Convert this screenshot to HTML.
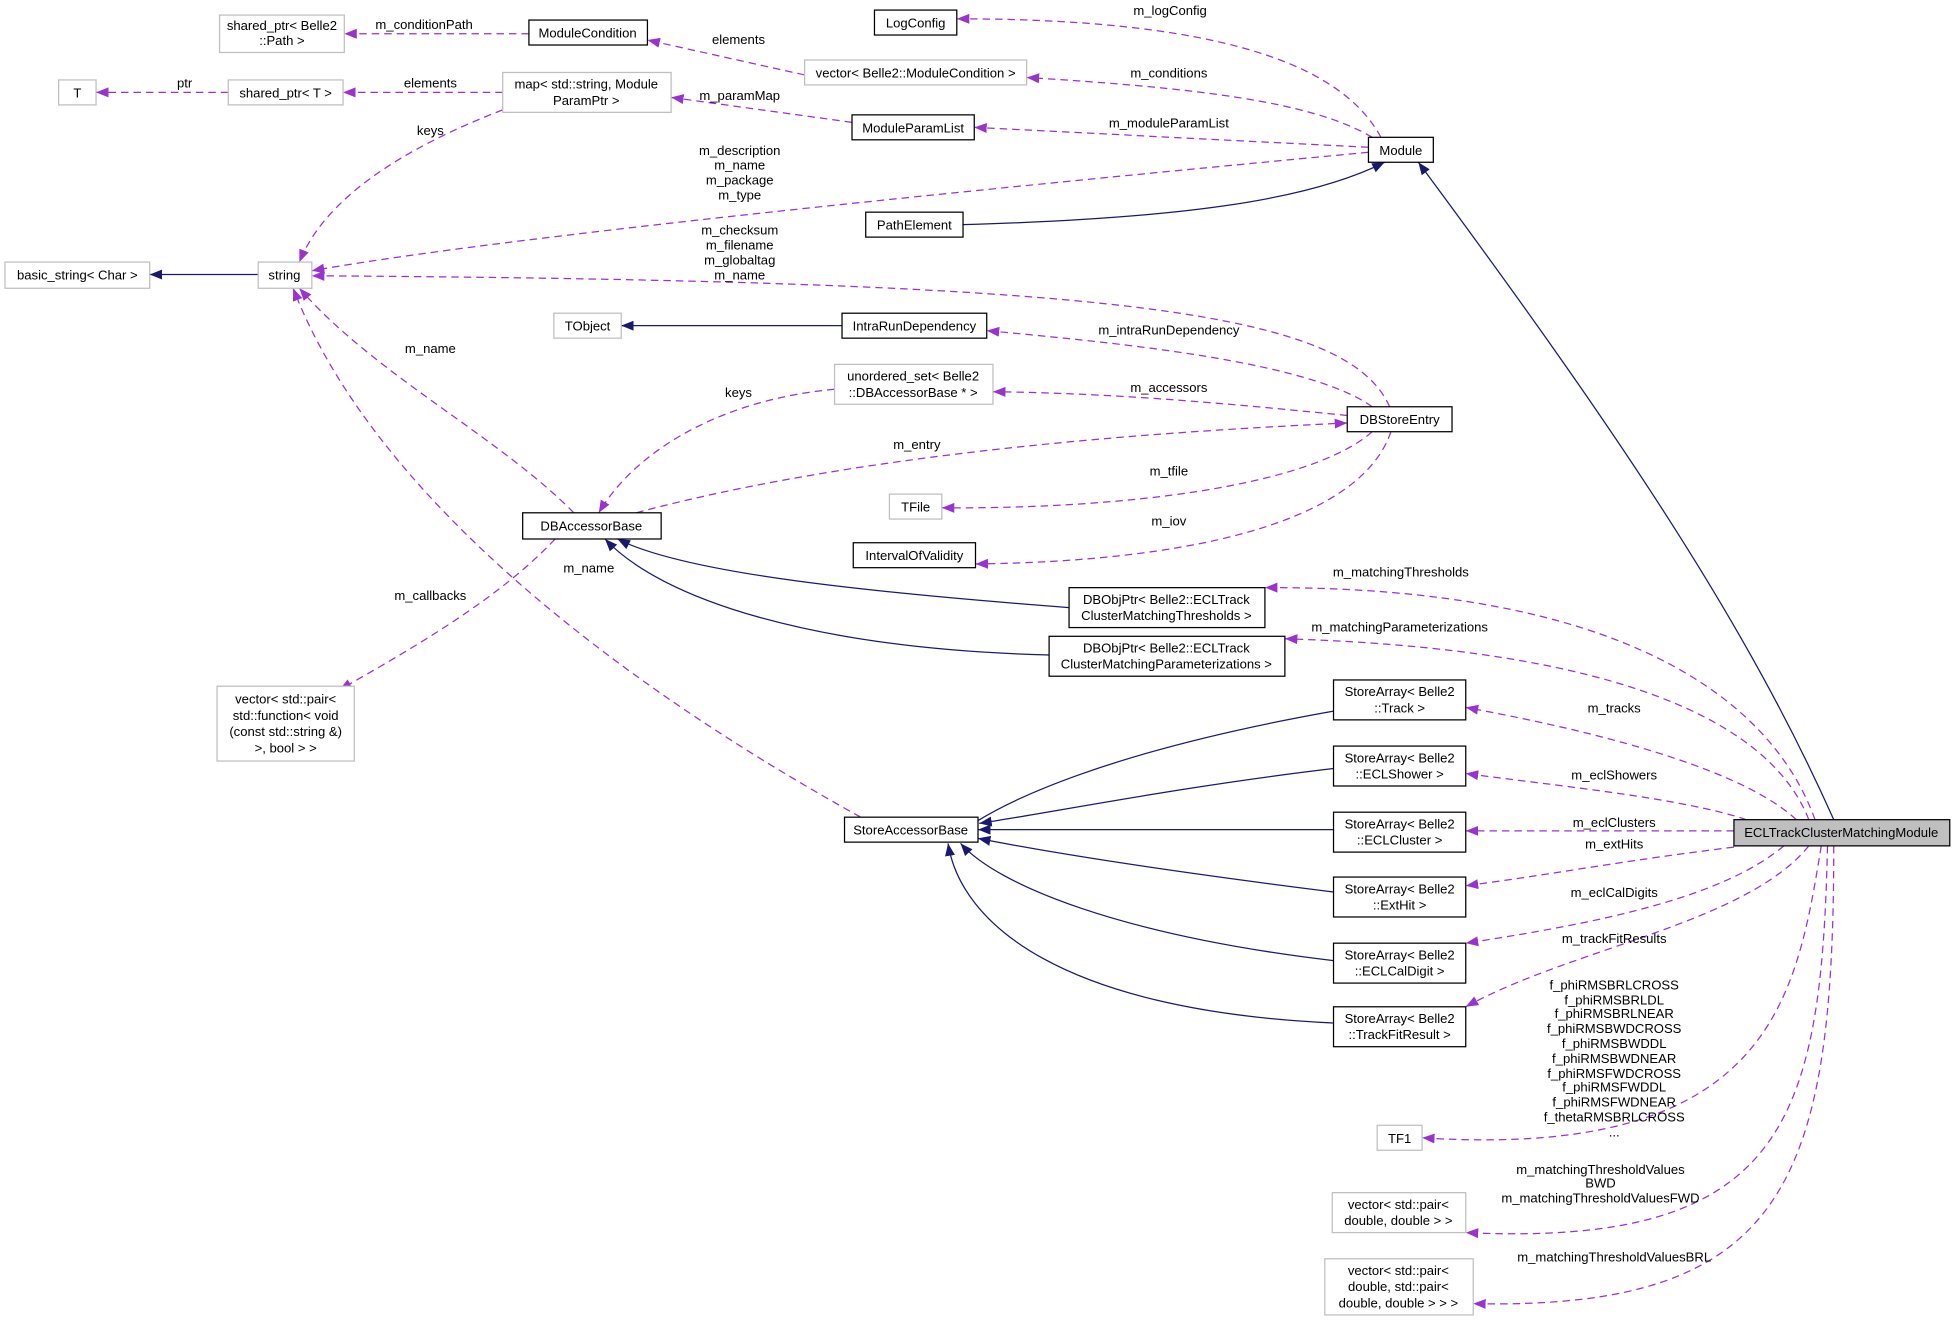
<!DOCTYPE html>
<html><head><meta charset="utf-8"><style>
html,body{margin:0;padding:0;background:#fff;}
svg{display:block;}
text{font-family:"Liberation Sans",sans-serif;font-size:10.5px;fill:#000;text-anchor:middle;}
.g{fill:#fff;stroke:#bfbfbf;stroke-width:1;}
.b{fill:#fff;stroke:#000;stroke-width:1;}
.d{fill:none;stroke:#9a32cd;stroke-width:1;stroke-dasharray:6,4;marker-end:url(#ap);}
.n{fill:none;stroke:#191970;stroke-width:1;marker-end:url(#an);}
</style></head><body>
<svg width="1956" height="1320" viewBox="0 0 1568 1058" xmlns="http://www.w3.org/2000/svg">
<defs>
<marker id="ap" viewBox="0 0 10 10" refX="10" refY="5" markerWidth="10" markerHeight="10" markerUnits="userSpaceOnUse" orient="auto"><path d="M0,1 L10,5 L0,9 z" fill="#9a32cd"/></marker>
<marker id="an" viewBox="0 0 10 10" refX="10" refY="5" markerWidth="10" markerHeight="10" markerUnits="userSpaceOnUse" orient="auto"><path d="M0,1 L10,5 L0,9 z" fill="#191970"/></marker>
</defs>
<path class="d" d="M424,27 L276,27"/><text x="340" y="23">m_conditionPath</text>
<path class="d" d="M645,60 L519,32"/><text x="592" y="35">elements</text>
<path class="d" d="M1107,110 C1080,60 1000,15 767,15"/><text x="938" y="12">m_logConfig</text>
<path class="d" d="M1100,110 C1050,80 950,70 823,62"/><text x="937" y="62">m_conditions</text>
<path class="d" d="M1097,118 L781,102"/><text x="937" y="102">m_moduleParamList</text>
<path class="d" d="M683,98 L538,78"/><text x="593" y="80">m_paramMap</text>
<path class="d" d="M403,74 L275,74"/><text x="345" y="70">elements</text>
<path class="d" d="M183,74 L77,74"/><text x="148" y="70">ptr</text>
<path class="d" d="M403,88 C320,120 260,160 240,210"/><text x="345" y="108">keys</text>
<path class="d" d="M1097,122 C800,150 400,190 250,217"/>
<text x="593" y="124">m_description</text><text x="593" y="136">m_name</text><text x="593" y="148">m_package</text><text x="593" y="160">m_type</text>
<path class="n" d="M772,180 C950,175 1050,160 1110,130"/>
<path class="d" d="M1114,326 C1080,250 900,225 250,221"/>
<text x="593" y="188">m_checksum</text><text x="593" y="200">m_filename</text><text x="593" y="212">m_globaltag</text><text x="593" y="224">m_name</text>
<path class="n" d="M207,220 L120,220"/>
<path class="n" d="M675,261 L498,261"/>
<path class="d" d="M1100,326 C1050,290 900,275 791,265"/><text x="937" y="268">m_intraRunDependency</text>
<path class="d" d="M1080,333 C1000,325 900,315 796,314"/><text x="937" y="314">m_accessors</text>
<path class="d" d="M669,312 C580,320 510,360 480,411"/><text x="592" y="318">keys</text>
<path class="d" d="M510,411 C700,360 950,345 1080,339"/><text x="735" y="360">m_entry</text>
<path class="d" d="M1100,346 C1050,390 900,408 755,407"/><text x="937" y="381">m_tfile</text>
<path class="d" d="M1115,346 C1090,420 950,450 782,452"/><text x="937" y="421">m_iov</text>
<path class="d" d="M460,411 C400,350 300,300 240,231"/><text x="345" y="283">m_name</text>
<path class="d" d="M445,432 C400,480 330,520 272,553"/><text x="345" y="481">m_callbacks</text>
<path class="n" d="M857,487 C700,475 550,460 495,432"/>
<path class="n" d="M841,525 C650,520 530,480 485,432"/>
<path class="d" d="M690,655 C500,550 300,400 235,231"/><text x="472" y="459">m_name</text>
<path class="n" d="M1069,570 C900,600 800,640 760,675"/>
<path class="n" d="M1069,616 C950,630 850,650 785,660"/>
<path class="n" d="M1069,665 L784,665"/>
<path class="n" d="M1069,715 C950,700 850,685 784,672"/>
<path class="n" d="M1069,770 C900,750 800,710 770,676"/>
<path class="n" d="M1069,820 C850,810 770,740 760,676"/>
<path class="n" d="M1470,657 C1400,500 1300,350 1137,130"/>
<path class="d" d="M1455,657 C1420,560 1300,470 1014,471"/><text x="1123" y="462">m_matchingThresholds</text>
<path class="d" d="M1450,657 C1420,580 1300,520 1030,512"/><text x="1122" y="506">m_matchingParameterizations</text>
<path class="d" d="M1440,657 C1400,620 1300,590 1175,567"/><text x="1294" y="571">m_tracks</text>
<path class="d" d="M1400,657 C1350,640 1250,630 1175,620"/><text x="1294" y="625">m_eclShowers</text>
<path class="d" d="M1390,666 L1175,666"/><text x="1294" y="663">m_eclClusters</text>
<path class="d" d="M1390,679 C1300,690 1250,700 1175,710"/><text x="1294" y="680">m_extHits</text>
<path class="d" d="M1430,678 C1380,720 1280,740 1175,756"/><text x="1294" y="719">m_eclCalDigits</text>
<path class="d" d="M1450,678 C1400,740 1260,760 1175,807"/><text x="1294" y="756">m_trackFitResults</text>
<path class="d" d="M1460,678 C1440,800 1420,930 1140,912"/>
<text x="1294" y="793">f_phiRMSBRLCROSS</text><text x="1294" y="805">f_phiRMSBRLDL</text><text x="1294" y="816">f_phiRMSBRLNEAR</text><text x="1294" y="828">f_phiRMSBWDCROSS</text><text x="1294" y="840">f_phiRMSBWDDL</text><text x="1294" y="852">f_phiRMSBWDNEAR</text><text x="1294" y="864">f_phiRMSFWDCROSS</text><text x="1294" y="875">f_phiRMSFWDDL</text><text x="1294" y="887">f_phiRMSFWDNEAR</text><text x="1294" y="899">f_thetaRMSBRLCROSS</text><text x="1294" y="911">...</text>
<path class="d" d="M1465,678 C1460,900 1430,1000 1175,988"/>
<text x="1283" y="941">m_matchingThresholdValues</text><text x="1283" y="952">BWD</text><text x="1283" y="964">m_matchingThresholdValuesFWD</text>
<path class="d" d="M1470,678 C1470,950 1430,1050 1181,1045"/><text x="1294" y="1011">m_matchingThresholdValuesBRL</text>
<rect class="g" x="176" y="12" width="100" height="30"/><text x="226" y="24">shared_ptr&lt; Belle2</text><text x="226" y="36">::Path &gt;</text>
<rect class="b" x="424" y="16" width="95" height="20"/><text x="471" y="30">ModuleCondition</text>
<rect class="b" x="701" y="8" width="66" height="20"/><text x="734" y="22">LogConfig</text>
<rect class="g" x="645" y="48" width="178" height="20"/><text x="734" y="62">vector&lt; Belle2::ModuleCondition &gt;</text>
<rect class="g" x="47" y="64" width="30" height="20"/><text x="62" y="78">T</text>
<rect class="g" x="183" y="64" width="92" height="20"/><text x="229" y="78">shared_ptr&lt; T &gt;</text>
<rect class="g" x="403" y="58" width="135" height="32"/><text x="470" y="71">map&lt; std::string, Module</text><text x="470" y="84">ParamPtr &gt;</text>
<rect class="b" x="683" y="92" width="98" height="20"/><text x="732" y="106">ModuleParamList</text>
<rect class="b" x="1097" y="110" width="52" height="20"/><text x="1123" y="124">Module</text>
<rect class="b" x="694" y="170" width="78" height="20"/><text x="733" y="184">PathElement</text>
<rect class="g" x="4" y="210" width="116" height="21"/><text x="62" y="224">basic_string&lt; Char &gt;</text>
<rect class="g" x="207" y="210" width="43" height="21"/><text x="228" y="224">string</text>
<rect class="g" x="444" y="251" width="54" height="20"/><text x="471" y="265">TObject</text>
<rect class="b" x="675" y="251" width="116" height="20"/><text x="733" y="265">IntraRunDependency</text>
<rect class="g" x="669" y="292" width="127" height="32"/><text x="732" y="305">unordered_set&lt; Belle2</text><text x="732" y="318">::DBAccessorBase * &gt;</text>
<rect class="b" x="1080" y="326" width="84" height="20"/><text x="1122" y="340">DBStoreEntry</text>
<rect class="g" x="713" y="396" width="42" height="20"/><text x="734" y="410">TFile</text>
<rect class="b" x="419" y="411" width="111" height="21"/><text x="474" y="425">DBAccessorBase</text>
<rect class="b" x="684" y="435" width="98" height="20"/><text x="733" y="449">IntervalOfValidity</text>
<rect class="b" x="857" y="471" width="157" height="32"/><text x="935" y="484">DBObjPtr&lt; Belle2::ECLTrack</text><text x="935" y="497">ClusterMatchingThresholds &gt;</text>
<rect class="b" x="841" y="510" width="189" height="32"/><text x="935" y="523">DBObjPtr&lt; Belle2::ECLTrack</text><text x="935" y="536">ClusterMatchingParameterizations &gt;</text>
<rect class="g" x="174" y="550" width="110" height="60"/><text x="229" y="564">vector&lt; std::pair&lt;</text><text x="229" y="577">std::function&lt; void</text><text x="229" y="590">(const std::string &amp;)</text><text x="229" y="603">&gt;, bool &gt; &gt;</text>
<rect class="b" x="1069" y="545" width="106" height="32"/><text x="1122" y="558">StoreArray&lt; Belle2</text><text x="1122" y="571">::Track &gt;</text>
<rect class="b" x="1069" y="598" width="106" height="32"/><text x="1122" y="611">StoreArray&lt; Belle2</text><text x="1122" y="624">::ECLShower &gt;</text>
<rect class="b" x="677" y="655" width="107" height="20"/><text x="730" y="669">StoreAccessorBase</text>
<rect class="b" x="1069" y="651" width="106" height="32"/><text x="1122" y="664">StoreArray&lt; Belle2</text><text x="1122" y="677">::ECLCluster &gt;</text>
<rect x="1390" y="657" width="173" height="21" fill="#bfbfbf" stroke="#000"/><text x="1476" y="671">ECLTrackClusterMatchingModule</text>
<rect class="b" x="1069" y="703" width="106" height="32"/><text x="1122" y="716">StoreArray&lt; Belle2</text><text x="1122" y="729">::ExtHit &gt;</text>
<rect class="b" x="1069" y="756" width="106" height="32"/><text x="1122" y="769">StoreArray&lt; Belle2</text><text x="1122" y="782">::ECLCalDigit &gt;</text>
<rect class="b" x="1069" y="807" width="106" height="32"/><text x="1122" y="820">StoreArray&lt; Belle2</text><text x="1122" y="833">::TrackFitResult &gt;</text>
<rect class="g" x="1104" y="902" width="36" height="20"/><text x="1122" y="916">TF1</text>
<rect class="g" x="1068" y="956" width="107" height="32"/><text x="1121" y="969">vector&lt; std::pair&lt;</text><text x="1121" y="982">double, double &gt; &gt;</text>
<rect class="g" x="1062" y="1009" width="119" height="45"/><text x="1121" y="1022">vector&lt; std::pair&lt;</text><text x="1121" y="1035">double, std::pair&lt;</text><text x="1121" y="1048">double, double &gt; &gt; &gt;</text>
</svg>
</body></html>
